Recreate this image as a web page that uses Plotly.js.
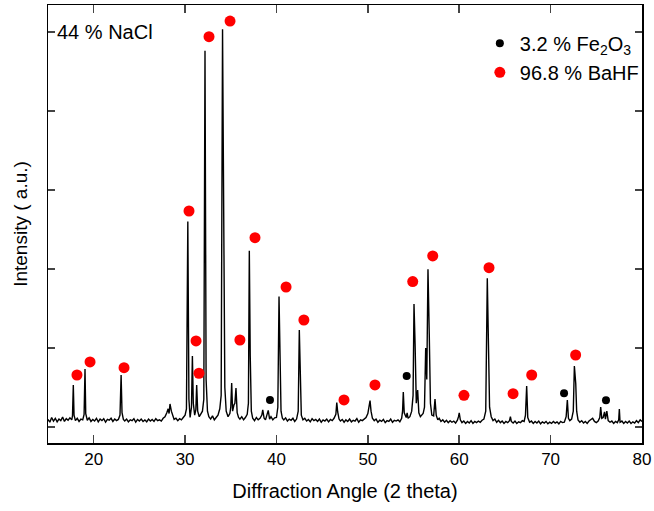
<!DOCTYPE html>
<html>
<head>
<meta charset="utf-8">
<script src="https://cdn.plot.ly/plotly-3.0.1.min.js"></script>
<style>html,body{margin:0;padding:0;background:#fff;}#chart{width:654px;height:511px;}</style>
</head>
<body>
<div id="chart"></div>
<script>
// XRD pattern (2 theta, intensity a.u.)
const angle = [
15.0,15.2,15.4,15.6,15.8,16.0,16.2,16.4,16.6,16.8,
17.0,17.2,17.4,17.6,17.68,17.77,17.85,18.0,18.2,18.4,
18.6,18.8,18.95,19.05,19.13,19.3,19.5,19.7,19.9,20.1,
20.3,20.5,20.7,20.9,21.1,21.3,21.5,21.7,21.9,22.1,
22.3,22.5,22.7,22.88,23.0,23.1,23.25,23.4,23.6,23.8,
24.0,24.2,24.4,24.6,24.8,25.0,25.2,25.4,25.6,25.8,
26.0,26.2,26.4,26.6,26.8,27.0,27.2,27.4,27.6,27.8,
28.0,28.15,28.25,28.35,28.5,28.65,28.8,29.0,29.2,29.4,
29.6,29.8,30.0,30.15,30.3,30.42,30.55,30.7,30.8,30.9,
31.05,31.18,31.27,31.38,31.55,31.7,31.9,32.05,32.18,32.3,
32.45,32.6,32.8,33.0,33.2,33.4,33.6,33.8,33.95,34.1,
34.22,34.35,34.5,34.7,34.9,35.0,35.1,35.2,35.35,35.45,
35.57,35.7,35.85,36.0,36.2,36.4,36.6,36.8,36.93,37.03,
37.13,37.25,37.4,37.6,37.8,38.0,38.2,38.4,38.5,38.65,
38.8,38.95,39.1,39.25,39.4,39.6,39.8,40.0,40.15,40.28,
40.38,40.5,40.65,40.8,41.0,41.2,41.4,41.6,41.8,42.0,
42.2,42.38,42.5,42.6,42.72,42.9,43.1,43.3,43.5,43.7,
43.9,44.1,44.3,44.5,44.7,44.9,45.1,45.3,45.5,45.7,
45.9,46.1,46.3,46.5,46.6,46.7,46.85,47.0,47.2,47.4,
47.6,47.8,48.0,48.2,48.4,48.6,48.8,49.0,49.2,49.4,
49.6,49.8,50.0,50.1,50.24,50.35,50.5,50.7,50.9,51.1,
51.3,51.5,51.7,51.9,52.1,52.3,52.5,52.7,52.9,53.1,
53.3,53.5,53.7,53.8,53.88,53.98,54.1,54.2,54.3,54.4,
54.6,54.8,54.95,55.05,55.17,55.3,55.45,55.58,55.75,55.9,
56.05,56.2,56.33,56.45,56.58,56.72,56.85,57.0,57.2,57.35,
57.48,57.65,57.8,58.0,58.2,58.4,58.6,58.8,59.0,59.2,
59.4,59.6,59.8,59.92,60.0,60.12,60.3,60.5,60.7,60.9,
61.1,61.3,61.5,61.7,61.9,62.1,62.3,62.5,62.7,62.9,
63.07,63.2,63.32,63.5,63.7,63.9,64.1,64.3,64.5,64.7,
64.9,65.1,65.3,65.5,65.6,65.7,65.9,66.1,66.3,66.5,
66.7,66.9,67.1,67.25,67.38,67.5,67.7,67.9,68.1,68.3,
68.5,68.7,68.9,69.1,69.3,69.5,69.7,69.9,70.1,70.3,
70.5,70.7,70.9,71.1,71.3,71.5,71.7,71.83,71.95,72.1,
72.3,72.48,72.6,72.75,72.85,73.0,73.2,73.4,73.6,73.8,
74.0,74.2,74.4,74.6,74.8,75.0,75.2,75.38,75.48,75.6,
75.75,75.9,76.0,76.15,76.3,76.5,76.7,76.9,77.1,77.3,
77.45,77.52,77.6,77.8,78.0,78.2,78.4,78.6,78.8,79.0,
79.2,79.4,79.6,79.8,80.0
];
const counts = [
95,60,120,75,110,65,100,80,125,70,
105,85,115,90,140,532,150,80,110,70,
100,90,160,734,170,85,115,70,95,75,
110,65,100,80,105,60,95,85,110,70,
100,80,95,150,658,180,95,75,100,65,
90,80,105,60,95,75,100,70,90,65,
100,75,95,70,105,80,90,75,110,130,
180,230,170,291,200,130,95,110,80,105,
90,120,150,230,2600,350,120,250,899,300,
150,220,532,200,130,160,200,350,4763,600,
200,130,100,140,90,120,150,230,400,5034,
3100,500,200,130,170,250,557,200,280,300,
494,180,120,100,130,90,120,160,300,2232,
900,200,110,80,120,90,110,150,215,110,
90,150,210,100,130,90,115,120,250,1650,
700,200,110,90,115,75,100,85,110,70,
100,200,1228,500,150,90,110,75,95,65,
105,80,95,70,100,60,90,75,100,65,
95,80,110,160,308,190,100,75,95,60,
90,70,100,65,85,75,105,60,90,80,
100,120,170,250,333,200,110,80,100,60,
85,70,95,55,80,70,100,60,85,75,
90,65,110,200,443,180,140,120,177,110,
130,200,400,1557,1050,300,468,180,130,150,
170,250,1000,600,1996,1177,300,150,140,354,
150,90,110,70,90,60,85,55,80,60,
75,50,85,130,177,90,55,75,45,70,
50,80,45,70,55,75,60,85,100,200,
1882,1038,250,130,80,100,60,85,55,75,
45,70,55,80,131,70,50,75,45,65,
55,80,70,150,519,120,60,75,45,70,
50,75,40,65,50,70,40,60,45,70,
50,65,40,70,55,60,130,342,110,80,
100,200,772,550,200,90,60,80,50,70,
45,75,95,110,70,55,75,120,253,110,
120,190,100,200,80,60,75,45,70,55,
90,228,60,75,45,70,50,75,45,65,
50,80,55,90,70
];
// phase markers
const bahfX = [18.17,19.6,23.32,30.43,31.2,31.52,32.62,34.92,36.0,37.65,41.05,43.0,47.39,50.78,54.91,57.1,60.52,63.26,65.89,67.93,72.74];
const bahfY = [658,823,751,2734,1089,680,4941,5139,1101,2397,1772,1354,342,532,1840,2165,401,2017,422,658,911];
const feX = [39.29,54.25,71.47,76.06];
const feY = [342,646,426,338];
const legendNames = ['3.2 % Fe<sub>2</sub>O<sub>3</sub>','96.8 % BaHF'];
const sampleLabel = '44 % NaCl';

const FONT = 'Liberation Sans, Arial, Helvetica, sans-serif';

const traces = [
  {x: angle, y: counts, type: 'scatter', mode: 'lines', line: {color: '#000', width: 1.4}, showlegend: false, hoverinfo: 'skip'},
  {x: feX, y: feY, type: 'scatter', mode: 'markers', name: legendNames[0], marker: {color: '#000', size: 8, symbol: 'circle'}},
  {x: bahfX, y: bahfY, type: 'scatter', mode: 'markers', name: legendNames[1], marker: {color: '#ff0000', size: 11, symbol: 'circle'}}
];

const layout = {
  width: 654, height: 511,
  margin: {l: 48, r: 12, t: 5, b: 68},
  paper_bgcolor: '#fff', plot_bgcolor: '#fff',
  font: {family: FONT, color: '#000', size: 17},
  showlegend: true,
  legend: {x: 0.727, y: 0.957, xanchor: 'left', yanchor: 'top', bgcolor: 'rgba(0,0,0,0)', font: {size: 20, family: FONT}, tracegroupgap: 0},
  xaxis: {
    range: [15, 80], tick0: 0, dtick: 10, ticks: 'inside', ticklen: 8, tickwidth: 1.5,
    showline: true, linecolor: '#000', linewidth: 1.5, mirror: 'ticks',
    showgrid: false, zeroline: false, tickfont: {size: 17},
    title: {text: 'Diffraction Angle (2 theta)', font: {size: 20}, standoff: 16}
  },
  yaxis: {
    range: [-203, 5342], tick0: 0, dtick: 1000, ticks: 'inside', ticklen: 7, tickwidth: 1.5,
    showline: true, linecolor: '#000', linewidth: 1.5, mirror: 'ticks',
    showgrid: false, zeroline: false, showticklabels: false,
    title: {text: 'Intensity ( a.u.)', font: {size: 19}, standoff: 14}
  },
  annotations: [
    {text: sampleLabel, xref: 'paper', yref: 'y', x: 0.012, y: 5000, xanchor: 'left', yanchor: 'middle', showarrow: false, font: {size: 20, family: FONT}}
  ]
};

Plotly.newPlot('chart', traces, layout, {displayModeBar: false, staticPlot: true});
</script>
</body>
</html>
